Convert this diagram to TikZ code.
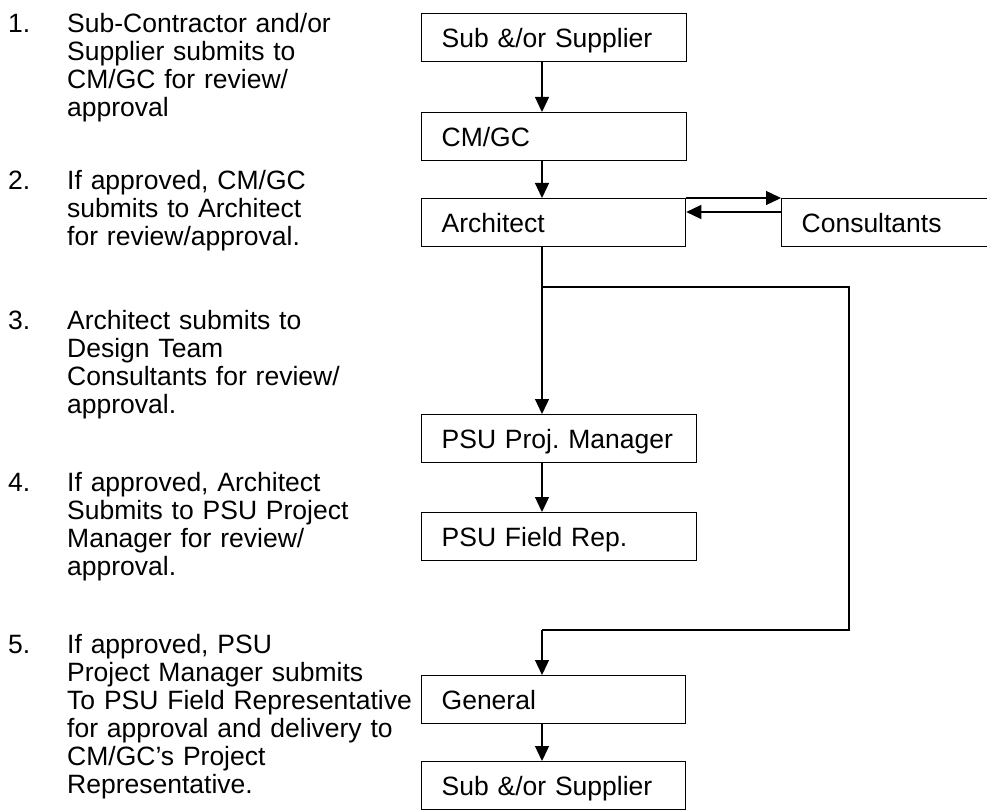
\documentclass[tikz,border=0pt]{standalone}
\usepackage{fontspec}
\setmainfont{Liberation Sans}
\usetikzlibrary{positioning,arrows.meta}
\newcommand\flowfont{\fontsize{26.5}{28}\selectfont\frenchspacing\hyphenpenalty=10000\relax}

\begin{document}
\begin{tikzpicture}[x=1pt,y=-1pt,
  font=\flowfont,
  flowbox/.style={draw,line width=1.3pt,anchor=north west,minimum height=48pt,
    inner xsep=20pt,inner ysep=0pt,align=left,text width=#1,
    text height=19.5pt,text depth=0pt},
  wire/.style={line width=1.3pt,line join=miter},
  flow/.style={wire,-{Triangle[length=15pt,width=14pt]}},
  stepnum/.style={anchor=base west,inner sep=0pt},
  steptext/.style={anchor=base west,align=left,text width=400pt,inner sep=0pt}]
\useasboundingbox (0,0) rectangle (987,810);
\clip (0,0) rectangle (987,810);

% numbered steps on the left
\node[stepnum] (num1) at (8,33) {1.};
\node[steptext] (item1) at (67,33) {Sub-Contractor and/or\\Supplier submits to\\CM/GC for review/\\approval};
\node[stepnum] (num2) at (8,190) {2.};
\node[steptext] (item2) at (67,190) {If approved, CM/GC\\submits to Architect\\for review/approval.};
\node[stepnum] (num3) at (8,329) {3.};
\node[steptext] (item3) at (67,329) {Architect submits to\\Design Team\\Consultants for review/\\approval.};
\node[stepnum] (num4) at (8,491) {4.};
\node[steptext] (item4) at (67,491) {If approved, Architect\\Submits to PSU Project\\Manager for review/\\approval.};
\node[stepnum] (num5) at (8,653) {5.};
\node[steptext] (item5) at (67,653) {If approved, PSU\\Project Manager submits\\To PSU Field Representative\\for approval and delivery to\\CM/GC’s Project\\Representative.};

% flow boxes
\node[flowbox=225pt] (sub1) at (421,13) {Sub \&/or Supplier};
\node[flowbox=225pt] (cmgc) at (421,112) {CM/GC};
\node[flowbox=224pt] (arch) at (421,198) {Architect};
\node[flowbox=179pt] (cons) at (781,198) {Consultants};
\node[flowbox=235pt] (pm) at (421,414) {PSU Proj. Manager};
\node[flowbox=235pt] (fieldrep) at (421,512) {PSU Field Rep.};
\node[flowbox=224pt] (general) at (421,675) {General};
\node[flowbox=224pt] (sub2) at (421,761) {Sub \&/or Supplier};

% connectors
\coordinate (spine) at (542,0);
\coordinate (split) at (542,287);
\coordinate (loopne) at (849,287);
\coordinate (loopse) at (849,630);
\coordinate (loopsw) at (542,630);
\draw[flow] (spine |- sub1.south) -- (spine |- cmgc.north);
\draw[flow] (spine |- cmgc.south) -- (spine |- arch.north);
\draw[flow] (arch.north east) -- (cons.north west);
\draw[flow] ([yshift=-14pt]cons.north west) -- ([yshift=-14pt]arch.north east);
\draw[wire] (spine |- arch.south) -- (split) -- (loopne) -- (loopse) -- (loopsw);
\draw[flow] (split) -- (spine |- pm.north);
\draw[flow] (loopsw) -- (spine |- general.north);
\draw[flow] (spine |- pm.south) -- (spine |- fieldrep.north);
\draw[flow] (spine |- general.south) -- (spine |- sub2.north);
\end{tikzpicture}
\end{document}
